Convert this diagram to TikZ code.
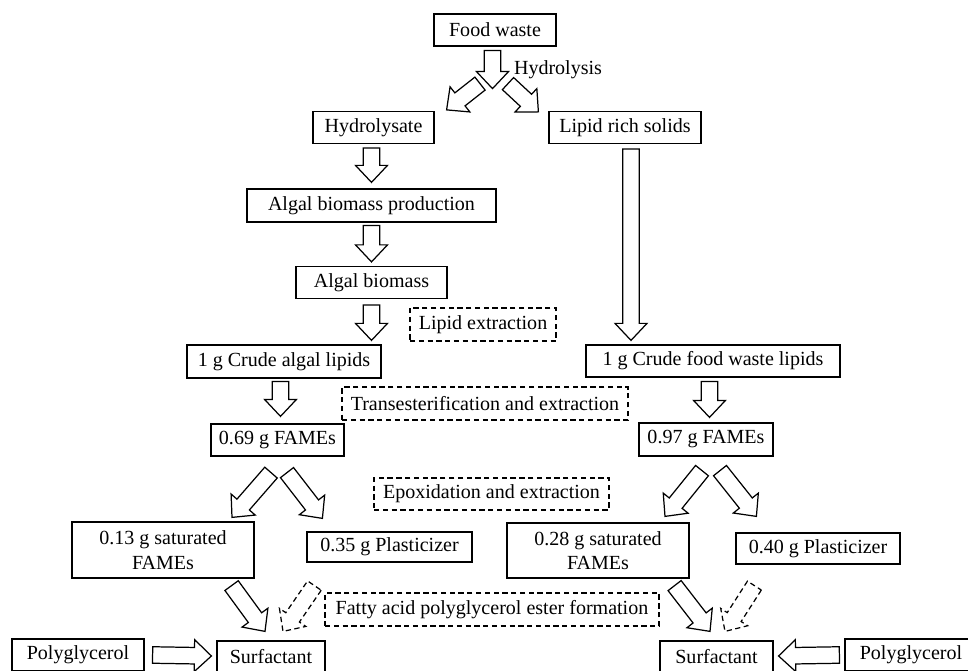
\documentclass[tikz,border=0pt]{standalone}
\usepackage{fontspec}
\setmainfont{Liberation Serif}
\usetikzlibrary{calc}

\tikzset{
  box/.style={draw, line width=0.7pt, inner sep=0pt, minimum height=0.64cm, align=center, font=\fontsize{11.4}{14}\selectfont},
  dbox/.style={box, dash pattern=on 3pt off 2pt},
  lbl/.style={inner sep=0pt, font=\fontsize{11.4}{14}\selectfont},
  blockarrow/.style={draw, line width=0.7pt, line join=miter, fill=white},
  dashedarrow/.style={dash pattern=on 3pt off 2pt},
}

% hollow block arrow from #2 to #3
\newcommand{\fatarrow}[3][]{%
  \coordinate (fa-s) at #2;
  \coordinate (fa-e) at #3;
  \coordinate (fa-h) at ($(fa-e)!0.34cm!(fa-s)$);
  \draw[blockarrow,#1] ($(fa-s)!0.165cm!90:(fa-e)$) -- ($(fa-h)!0.165cm!90:(fa-e)$)
    -- ($(fa-h)!0.32cm!90:(fa-e)$) -- (fa-e) -- ($(fa-h)!0.32cm!-90:(fa-e)$)
    -- ($(fa-h)!0.165cm!-90:(fa-e)$) -- ($(fa-s)!0.165cm!-90:(fa-e)$) -- cycle;
}

\begin{document}
\begin{tikzpicture}[x=0.02cm, y=-0.02cm]
    \useasboundingbox (0,0) rectangle (968,671);
    \clip (0,0) rectangle (968,671);

    %top
    \node[box, minimum width=2.44cm] (food) at (495,30) {Food waste};
    \node[lbl] (hydro) at (558,70) {Hydrolysis};
    \node[box, minimum width=2.42cm] (hyd) at (373.5,127.5) {Hydrolysate};
    \node[box, minimum width=3.04cm] (lrs) at (625,127.5) {Lipid rich solids};

    %algae side
    \node[box, minimum width=4.98cm, minimum height=0.66cm] (abp) at (371.5,205.5) {Algal biomass production};
    \node[box, minimum width=3.02cm] (ab) at (371.5,282.5) {Algal biomass};
    \node[dbox, minimum width=2.92cm, minimum height=0.66cm] (lipext) at (483,324.5) {Lipid extraction};
    \node[box, minimum width=3.88cm, minimum height=0.66cm] (cal) at (284,361.5) {1 g Crude algal lipids};
    \node[box, minimum width=5.08cm] (cfl) at (713,361) {1 g Crude food waste lipids};
    \node[dbox, minimum width=5.72cm, minimum height=0.66cm] (trans) at (485,403.5) {Transesterification and extraction};
    \node[box, minimum width=2.66cm] (fa1) at (277.5,440) {0.69 g FAMEs};
    \node[box, minimum width=2.68cm, minimum height=0.66cm] (fa2) at (706,439.5) {0.97 g FAMEs};
    \node[dbox, minimum width=4.70cm] (epox) at (491.5,494) {Epoxidation and extraction};

    %products
    \node[box, minimum width=3.64cm, minimum height=1.12cm] (sat1) at (163,550) {0.13 g saturated\\FAMEs};
    \node[box, minimum width=3.30cm, minimum height=0.60cm] (pl1) at (389.5,547) {0.35 g Plasticizer};
    \node[box, minimum width=3.64cm, minimum height=1.10cm] (sat2) at (598,550.5) {0.28 g saturated\\FAMEs};
    \node[box, minimum width=3.28cm, minimum height=0.62cm] (pl2) at (818,548.5) {0.40 g Plasticizer};
    \node[dbox, minimum width=6.68cm, minimum height=0.66cm] (fapg) at (492,609.5) {Fatty acid polyglycerol ester formation};

    %bottom
    \node[box, minimum width=2.64cm] (pg1) at (78,655) {Polyglycerol};
    \node[box, minimum width=2.16cm] (sur1) at (271,657) {Surfactant};
    \node[box, minimum width=2.26cm] (sur2) at (716.5,657) {Surfactant};
    \node[box, minimum width=2.64cm] (pg2) at (911,655) {Polyglycerol};

    %arrows
    \coordinate (split) at ($(food.south)+(-2.5,42)$);
    \fatarrow{($(food.south)+(-2.5,4)$)}{(split)}
    \fatarrow{($(split)+(-12.5,-5)$)}{($(hyd.north east)+(12,-1)$)}
    \fatarrow{($(split)+(15.5,-5)$)}{($(lrs.north west)+(-10,1)$)}
    \fatarrow{($(hyd.south)+(-2,4)$)}{($(abp.north)+(0,-6)$)}
    \fatarrow{($(abp.south)+(0,3)$)}{($(ab.north)+(0,-4)$)}
    \fatarrow{($(ab.south)+(0,6)$)}{($(ab.south |- cal.north)+(0,-4)$)}
    \fatarrow{($(lrs.south)+(6,5)$)}{($(lrs.south |- cfl.north)+(6,-4)$)}
    \fatarrow{($(cal.south)+(-3.5,3)$)}{($(fa1.north)+(3,-7)$)}
    \fatarrow{($(cfl.south)+(-3.5,4)$)}{($(fa2.north)+(3.5,-5)$)}

    \fatarrow{($(fa1.south)+(-6.5,16)$)}{($(sat1.north)+(69,-4)$)}
    \fatarrow{($(fa1.south)+(9.5,16)$)}{($(pl1.north west)+(16,-13)$)}
    \fatarrow{($(fa2.south)+(-4,14)$)}{($(sat2.north)+(67,-6)$)}
    \fatarrow{($(fa2.south)+(14,14)$)}{($(pl2.north west)+(21,-16)$)}

    \fatarrow{($(sat1.south east)+(-23,7)$)}{($(sur1.north)+(-6,-9)$)}
    \fatarrow[dashedarrow]{($(pl1.south west)+(8,23)$)}{($(sur1.north)+(12,-9)$)}
    \fatarrow{($(sat2.south east)+(-15,7)$)}{($(sur2.north)+(-6.5,-9)$)}
    \fatarrow[dashedarrow]{($(pl2.south west)+(19,21)$)}{($(sur2.north)+(8.5,-9)$)}

    \fatarrow{($(pg1.east)+(8,0)$)}{($(sur1.west)+(-5,-1)$)}
    \fatarrow{($(pg2.west)+(-5,0)$)}{($(sur2.east)+(5,-1)$)}
\end{tikzpicture}
\end{document}
